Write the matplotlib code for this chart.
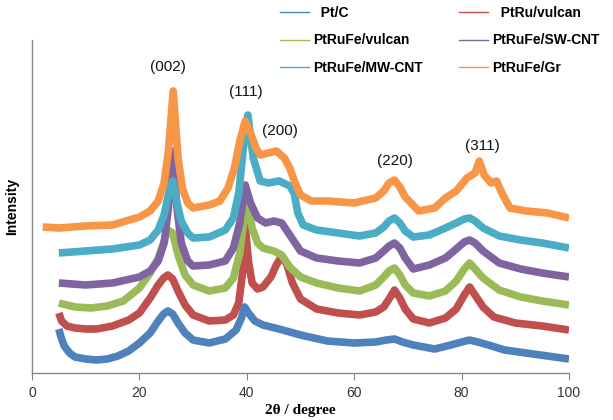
import matplotlib
matplotlib.use('Agg')
import matplotlib.pyplot as plt
from matplotlib.lines import Line2D

# XRD patterns, stacked (intensity in arbitrary units, offset already included)
x_ptc = [5, 5.4, 6, 7, 8, 10, 12, 14, 16, 18, 20, 22, 23.5, 24.5, 25.3, 26.2, 27.2, 28.5, 30, 33, 36, 38, 39,
         39.6, 40.3, 41.5, 43, 46, 50, 55, 60, 64, 66, 67.5, 69, 71, 75, 78, 80, 81.5, 83, 85, 88, 92, 96, 100]
y_ptc = [44, 36, 27, 20, 16, 14, 13, 14, 17, 22, 30, 40, 52, 59, 62, 59, 50, 40, 33, 30, 34, 43, 55,
         66, 60, 52, 48, 44, 38, 32, 30, 31, 33, 34, 31, 28, 24, 28, 31, 33, 31, 28, 23, 20, 17, 14]

x_ptru = [5, 5.5, 6.5, 8, 10, 12, 15, 18, 20, 22, 23.5, 24.5, 25.3, 26.2, 27.2, 28.5, 30, 33, 36, 37.5, 38.5,
          39.2, 39.7, 40.3, 41, 42, 43, 44.5, 45.5, 46.5, 47.5, 48.5, 50, 53, 57, 61, 64, 65.5, 66.5, 67.5,
          68.5, 69.5, 71, 74, 77, 79, 80.5, 81.5, 82.5, 84, 86, 90, 95, 100]
y_ptru = [60, 52, 47, 45, 44, 44, 47, 53, 60, 75, 88, 95, 98, 94, 82, 68, 58, 52, 53, 58, 70,
          100, 148, 112, 90, 84, 86, 96, 108, 117, 108, 90, 74, 64, 60, 58, 61, 66, 74, 83,
          75, 64, 54, 50, 55, 64, 78, 86, 78, 66, 56, 50, 47, 43]

x_vulcan = [5, 8, 11, 14, 17, 20, 22, 23.5, 24.5, 25.3, 26.2, 27.2, 28.5, 30, 33, 36, 37.5, 38.7, 39.5, 40.2,
            41, 42, 43, 45, 46.5, 48, 50, 53, 57, 61, 64, 65.5, 66.5, 67.5, 68.5, 69.5, 71, 74, 77, 79, 80.5,
            81.5, 82.5, 84, 87, 91, 95, 100]
y_vulcan = [70, 66, 65, 67, 72, 85, 100, 115, 130, 143, 140, 118, 98, 88, 82, 85, 95, 120, 155, 168,
            145, 130, 125, 122, 118, 106, 96, 90, 85, 82, 88, 96, 102, 105, 98, 88, 80, 77, 82, 92, 104,
            110, 104, 95, 83, 76, 72, 68]

x_swcnt = [5, 10, 15, 20, 22, 23.5, 24.6, 25.4, 26.2, 27, 27.8, 29, 30, 33, 36, 37.5, 38.7, 39.7, 40.7, 42,
           43.5, 45, 46.5, 48, 50, 53, 57, 61, 64, 65.5, 66.5, 67.5, 68.5, 69.5, 71, 74, 77, 79, 80.5, 81.5,
           82.5, 84, 87, 91, 95, 100]
y_swcnt = [90, 88, 90, 96, 102, 112, 130, 165, 222, 165, 130, 112, 107, 108, 112, 125, 150, 188, 170, 155,
           150, 152, 150, 138, 122, 115, 112, 110, 115, 122, 127, 130, 125, 115, 104, 108, 115, 124, 131, 133,
           130, 122, 110, 104, 100, 96]

x_mwcnt = [5, 10, 15, 20, 22, 23.5, 24.6, 25.4, 26.2, 27, 27.8, 29, 30, 33, 36, 37.5, 38.5, 39.3, 40.2, 41.2,
           42.5, 44, 46, 48, 48.8, 49.5, 50.5, 53, 57, 61, 64, 65.5, 66.5, 67.5, 68.5, 69.5, 71, 74, 77, 79,
           80.5, 81.5, 82.5, 84, 87, 91, 95, 100]
y_mwcnt = [120, 122, 124, 128, 133, 143, 158, 178, 192, 170, 152, 140, 135, 136, 143, 155, 180, 222, 258, 215,
           192, 190, 192, 187, 180, 160, 148, 143, 140, 137, 140, 146, 152, 155, 150, 142, 136, 138, 145, 150,
           154, 155, 152, 145, 137, 133, 130, 125]

x_gr = [2, 5, 10, 15, 20, 22, 23.5, 24.6, 25.4, 26.3, 27.2, 28, 29, 30, 33, 35, 36.5, 37.7, 38.7, 39.7, 40.7,
        41.7, 42.5, 44, 45.5, 47, 48, 49, 50, 52, 55, 60, 64, 65.5, 66.5, 67.5, 68.5, 69.5, 72, 75, 77, 79,
        81, 82.5, 83.3, 84.2, 85.5, 86.5, 87.5, 89, 92, 96, 100]
y_gr = [146, 145, 147, 148, 156, 162, 172, 190, 222, 282, 215, 185, 170, 165, 168, 172, 185, 205, 232, 252, 240,
        225, 218, 220, 222, 215, 205, 190, 178, 172, 172, 170, 175, 182, 190, 193, 186, 176, 162, 165, 175, 182,
        195, 200, 212, 198, 190, 192, 180, 165, 162, 160, 155]

labels = ['Pt/C', 'PtRu/vulcan', 'PtRuFe/vulcan', 'PtRuFe/SW-CNT', 'PtRuFe/MW-CNT', 'PtRuFe/Gr']
colors = ['#4F81BD', '#C0504D', '#9BBB59', '#8064A2', '#4BACC6', '#F79646']
xs = [x_ptc, x_ptru, x_vulcan, x_swcnt, x_mwcnt, x_gr]
ys = [y_ptc, y_ptru, y_vulcan, y_swcnt, y_mwcnt, y_gr]

# peak labels (hkl) and where they sit
peak_names = ['(002)', '(111)', '(200)', '(220)', '(311)']
peak_x = [25.3, 39.9, 46.2, 67.6, 83.8]
peak_y = [306, 281, 242, 212, 227]

fig = plt.figure(figsize=(6.13, 4.20), dpi=100)
ax = fig.add_axes([0.0522, 0.1119, 0.8760, 0.7929])

for x, y, c in zip(xs, ys, colors):
    ax.plot(x, y, color=c, linewidth=5.5, solid_joinstyle='round', solid_capstyle='butt')

for name, px, py in zip(peak_names, peak_x, peak_y):
    ax.text(px, py, name, ha='center', va='center', fontsize=11, family='Liberation Sans', color='#111111')

ax.set_xlim(0, 100)
ax.set_ylim(0, 333)
ax.set_xticks([0, 20, 40, 60, 80, 100])
ax.set_yticks([])

for side in ['top', 'right']:
    ax.spines[side].set_visible(False)
for side in ['left', 'bottom']:
    ax.spines[side].set_color('#868686')
    ax.spines[side].set_linewidth(1.0)

ax.tick_params(axis='x', direction='out', length=5, color='#868686', labelsize=10, labelcolor='#333333', pad=4)
for lbl in ax.get_xticklabels():
    lbl.set_family('Liberation Sans')

ax.set_xlabel('2θ / degree', fontsize=11, fontweight='bold', family='Liberation Serif', labelpad=3)
ax.set_ylabel('Intensity', fontsize=10, fontweight='bold', family='Liberation Sans', labelpad=9)

# legend: thin lines, two columns filled row by row
order = [0, 2, 4, 1, 3, 5]
handles = [Line2D([], [], color=colors[i], linewidth=1.0) for i in order]
names = [labels[i] for i in order]
names[0] = '  ' + names[0]
names[3] = '  ' + names[3]
fig.legend(handles, names, loc='upper left', bbox_to_anchor=(0.457, 0.985), ncol=2, frameon=False,
           prop={'family': 'Liberation Sans', 'weight': 'bold', 'size': 10},
           handlelength=2.1, handletextpad=0.3, labelspacing=0.95, columnspacing=2.6,
           borderpad=0, borderaxespad=0)

fig.savefig('out.png', dpi=100)
